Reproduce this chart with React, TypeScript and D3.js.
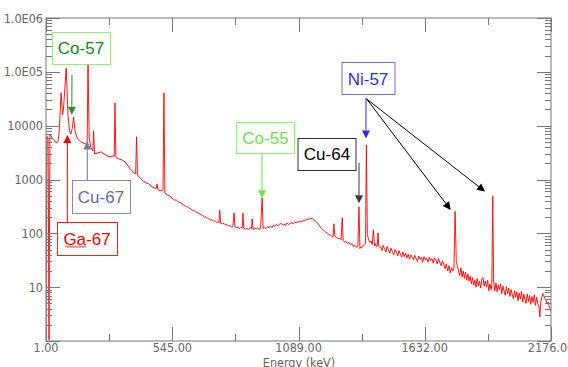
import React from 'react';
import * as d3 from 'd3';

// ---- data (energy in keV, counts) ----
const energyDomain: [number, number] = [1, 2176];
const countDomain: [number, number] = [1, 1e6];
const energyLabelTicks = [1, 545, 1089, 1632, 2176];
const energyHalfTicks = [273, 817, 1360.5, 1904];
const countDecades = [1, 10, 100, 1000, 10000, 1e5, 1e6];
const countLabels = ['', '10', '100', '1000', '10000', '1.0E05', '1.0E06'];

const lowSpectrum: [number, number][] = [
  [1, 1.05], [5, 6300], [10, 6000], [14, 1.05], [18, 6700], [22, 6500], [27, 6000], [35, 5450],
  [40, 5000], [48, 4800], [53, 5200], [58, 8000], [66, 40700], [72, 16000], [76, 19700],
  [88, 117000], [96, 15000], [102, 8000], [108, 7000], [114, 9000], [120, 14500], [126, 8000],
  [133, 6200], [140, 5500], [150, 5000], [160, 4800], [170, 4600], [178, 4500], [182, 135000],
  [187, 6000], [194, 4000], [200, 3600], [203, 3400], [206, 8000], [210, 3000], [225, 3120],
  [238, 3260], [251, 2990],
];

const midSpectrum: [number, number][] = [
  [264, 2746], [277, 2630], [290, 2746], [295, 2700], [298, 26500], [302, 2630], [315, 2415],
  [328, 2313], [341, 2124], [354, 1790], [367, 1507], [380, 1327], [387, 1271], [391, 6200],
  [395, 1220], [406, 1071], [419, 942], [432, 864], [445, 828], [458, 728], [470, 698], [475, 668],
  [479, 828], [484, 641], [496, 614], [505, 641], [509, 40700], [513, 564], [522, 517], [535, 490],
  [548, 440], [555, 410], [561, 420], [568, 392], [574, 378], [581, 372], [587, 352], [594, 338],
  [600, 330], [607, 308], [613, 312], [620, 290], [626, 284], [632, 266], [638, 270], [645, 250],
  [651, 246], [658, 236], [664, 228], [670, 222], [677, 214], [684, 200], [690, 204], [697, 188],
  [703, 186], [710, 176], [716, 180], [723, 168], [729, 171], [736, 160], [742, 165], [746, 158],
  [749, 272], [753, 155], [761, 150], [768, 153], [774, 143], [781, 146], [787, 136], [793, 140],
  [800, 130], [806, 134], [811, 239], [815, 132], [822, 127], [828, 130], [835, 122], [841, 130],
  [846, 125], [849, 239], [853, 124], [860, 119], [867, 123], [873, 117], [880, 128], [886, 122],
  [889, 185], [893, 118], [900, 126], [906, 121], [913, 127], [919, 117], [925, 126], [932, 455],
  [936, 124], [942, 130], [949, 122], [955, 133], [961, 127], [968, 138], [974, 128], [980, 141],
  [987, 135], [993, 146], [1000, 138], [1006, 148],
];

const highSpectrum: [number, number][] = [
  [1013, 152], [1020, 144], [1026, 149], [1033, 139], [1039, 156], [1046, 146], [1052, 152],
  [1059, 158], [1065, 150], [1072, 163], [1078, 155], [1085, 166], [1091, 160], [1098, 172],
  [1104, 163], [1110, 176], [1116, 172], [1123, 184], [1129, 179], [1136, 190], [1142, 186],
  [1148, 192], [1155, 178], [1161, 170], [1168, 160], [1174, 148], [1181, 136], [1187, 124],
  [1194, 117], [1200, 110], [1207, 104], [1213, 100], [1220, 95], [1226, 92], [1233, 88],
  [1237, 85], [1241, 150], [1245, 88], [1252, 84], [1259, 80], [1265, 82], [1272, 76],
  [1277, 193], [1281, 73], [1287, 68], [1293, 71], [1299, 64], [1306, 68], [1312, 62], [1319, 64],
  [1325, 57], [1332, 60], [1338, 55], [1344, 57], [1349, 310], [1353, 52], [1358, 56], [1362, 54],
  [1368, 60], [1373, 62], [1377, 66], [1381, 4400], [1385, 95], [1390, 78], [1396, 68], [1401, 72],
  [1406, 62], [1411, 116], [1416, 58], [1420, 64], [1424, 56], [1428, 60], [1431, 102], [1434, 58],
  [1438, 55],
];

const tailSpectrum: [number, number][] = [
  [1442, 56], [1448, 48], [1453, 60], [1459, 52], [1465, 45], [1470, 57], [1476, 49], [1482, 43],
  [1487, 53], [1493, 46], [1499, 40], [1504, 50], [1510, 45], [1516, 38], [1521, 48], [1527, 41],
  [1533, 36], [1538, 45], [1544, 37], [1550, 43], [1555, 35], [1561, 41], [1567, 33], [1572, 40],
  [1578, 36], [1584, 32], [1589, 39], [1595, 34], [1601, 30], [1606, 38], [1612, 33], [1618, 36],
  [1623, 29], [1629, 37], [1635, 32], [1640, 35], [1646, 29], [1652, 36], [1657, 31], [1663, 34],
  [1669, 28], [1674, 35], [1680, 32], [1686, 27], [1691, 34], [1697, 29], [1703, 25], [1708, 31],
  [1714, 27], [1720, 22], [1725, 27], [1731, 20], [1737, 25], [1742, 18.5], [1748, 23], [1753, 20],
  [1758, 23], [1763, 255], [1768, 30], [1773, 25], [1778, 20], [1783, 16.5], [1788, 23], [1793, 15.5],
  [1798, 20], [1803, 14.5], [1808, 19], [1813, 13.5], [1818, 17.5], [1823, 13], [1828, 16],
  [1833, 11.5], [1838, 15], [1843, 11], [1848, 13.5], [1853, 10], [1858, 14.5], [1863, 10.5],
  [1868, 13], [1873, 9.6], [1878, 14], [1883, 15], [1888, 10.5], [1893, 13], [1898, 10],
  [1903, 13.5], [1908, 8.6], [1913, 11.5], [1918, 9], [1921, 11], [1925, 496], [1929, 12.5],
  [1934, 8.6], [1939, 12], [1944, 8.2], [1949, 11], [1954, 9], [1959, 11.5], [1964, 7.6],
  [1969, 10.5], [1974, 8.6], [1979, 7.1], [1984, 10.2], [1989, 7.6], [1994, 9.6], [1999, 6.7],
  [2004, 9], [2009, 7.4], [2014, 6.1], [2019, 8.6], [2024, 6.5], [2029, 8.2], [2034, 5.6],
  [2039, 7.8], [2044, 6], [2049, 8.3], [2054, 5.3], [2059, 7.4], [2064, 5.8], [2069, 5],
  [2074, 7.5], [2079, 5.4], [2084, 7], [2089, 4.8], [2094, 6.7], [2099, 5.2], [2104, 7.2],
  [2109, 4.6], [2114, 6.5], [2119, 4.9], [2124, 4.3], [2128, 2.8], [2132, 5.3], [2137, 6.5],
  [2141, 7.6], [2145, 7], [2149, 6.2], [2154, 5.8], [2159, 4.9], [2164, 5.3], [2169, 4.2],
  [2175, 3.6],
];

// isotope call-outs: name and the [keV, counts] each arrow points at
const isotopeNames = ['Co-57', 'Ga-67', 'Cu-67', 'Co-55', 'Cu-64', 'Ni-57'];
const arrowTargets: [number, number][][] = [
  [[112, 15900]],
  [[93, 6740]],
  [[179, 5060]],
  [[931, 449]],
  [[1349, 362]],
  [[1379, 5800], [1744, 272], [1892, 596]],
];

// ---- layout (pixels) ----
const W = 568;
const H = 367;
const plot = { left: 46, right: 551, top: 18, bottom: 341 };
const calloutLayout = [
  { box: [52, 32, 58, 32], text: [81, 54], fill: '#128a12', stroke: '#99f070', from: [[72, 75]], arrow: ['#2b8f2b'], wavy: false },
  { box: [57, 222, 60, 33], text: [87, 245], fill: '#ff0000', stroke: '#ff2020', from: [[67.3, 222]], arrow: ['#ff0000'], wavy: true },
  { box: [72, 180, 58, 33], text: [101, 203], fill: '#6a6a9c', stroke: '#8a8ab0', from: [[87.3, 180]], arrow: ['#7474a6'], wavy: false },
  { box: [236, 122, 58, 31], text: [265.5, 144], fill: '#6ee04a', stroke: '#86f86a', from: [[262, 153]], arrow: ['#66e844'], wavy: false },
  { box: [297.5, 138, 58, 32], text: [327, 160], fill: '#000000', stroke: '#303030', from: [[359, 163]], arrow: ['#383838'], wavy: false },
  { box: [341.5, 62, 53, 32], text: [368, 85], fill: '#3434c4', stroke: '#7070dc', from: [[366, 98], [366.7, 99], [366.7, 99]], arrow: ['#3030d0', '#000000', '#000000'], wavy: false },
];

const labelFont = "'Liberation Sans Narrow', 'DejaVu Sans Condensed', Arial, sans-serif";
const calloutFont = "'Liberation Sans', Arial, sans-serif";
const axisColor = '#777777';
const tickTextColor = '#666666';

function arrowHead(x1: number, y1: number, x2: number, y2: number, len = 8, half = 4) {
  const dx = x2 - x1;
  const dy = y2 - y1;
  const d = Math.hypot(dx, dy) || 1;
  const ux = dx / d;
  const uy = dy / d;
  const bx = x2 - ux * len;
  const by = y2 - uy * len;
  return {
    base: [bx, by],
    points: `${x2},${y2} ${bx - uy * half},${by + ux * half} ${bx + uy * half},${by - ux * half}`,
  };
}

export default function App() {
  const x = d3.scaleLinear().domain(energyDomain).range([plot.left, plot.right]);
  const y = d3.scaleLog().domain(countDomain).range([plot.bottom, plot.top]);

  const spectrum = [...lowSpectrum, ...midSpectrum, ...highSpectrum, ...tailSpectrum];
  const line = d3
    .line<[number, number]>()
    .x((d) => x(d[0]))
    .y((d) => y(Math.max(d[1], 1)));

  // log minor ticks 2..9 in each decade
  const minorCounts: number[] = [];
  countDecades.slice(0, -1).forEach((dec) => {
    for (let k = 2; k <= 9; k++) minorCounts.push(dec * k);
  });

  const majorLen = 14;
  const minorLen = 6;

  // little spell-check squiggle under "Ga"
  let squiggle = 'M65,247';
  for (let i = 1; i <= 14; i++) squiggle += ` L${65 + i * 1.5},${i % 2 ? 245.8 : 247.6}`;

  return (
    <svg
      width={W}
      height={H}
      viewBox={`0 0 ${W} ${H}`}
      style={{ position: 'absolute', left: 0, top: 0, display: 'block', background: '#fff' }}
    >
      <defs>
        <clipPath id="plotClip">
          <rect x={plot.left} y={plot.top} width={plot.right - plot.left} height={plot.bottom - plot.top} />
        </clipPath>
      </defs>
      <rect x={0} y={0} width={W} height={H} fill="#ffffff" />

      {/* spectrum */}
      <path
        d={line(spectrum) || ''}
        fill="none"
        stroke="#ff0000"
        strokeWidth={0.9}
        strokeLinejoin="round"
        clipPath="url(#plotClip)"
      />

      {/* frame */}
      <rect
        x={plot.left}
        y={plot.top}
        width={plot.right - plot.left}
        height={plot.bottom - plot.top}
        fill="none"
        stroke={axisColor}
        strokeWidth={1}
      />

      {/* left + right log ticks */}
      <g stroke={axisColor} strokeWidth={1}>
        {countDecades.map((c) => (
          <g key={`maj${c}`}>
            <line x1={plot.left} x2={plot.left + majorLen} y1={Math.round(y(c)) + 0.5} y2={Math.round(y(c)) + 0.5} />
            <line x1={plot.right - majorLen} x2={plot.right} y1={Math.round(y(c)) + 0.5} y2={Math.round(y(c)) + 0.5} />
          </g>
        ))}
        {minorCounts.map((c) => (
          <g key={`min${c}`}>
            <line x1={plot.left} x2={plot.left + minorLen} y1={Math.round(y(c)) + 0.5} y2={Math.round(y(c)) + 0.5} />
            <line x1={plot.right - minorLen} x2={plot.right} y1={Math.round(y(c)) + 0.5} y2={Math.round(y(c)) + 0.5} />
          </g>
        ))}
        {/* top + bottom energy ticks */}
        {energyLabelTicks.map((e) => (
          <g key={`ex${e}`}>
            <line x1={Math.round(x(e)) + 0.5} x2={Math.round(x(e)) + 0.5} y1={plot.top} y2={plot.top + majorLen} />
            <line x1={Math.round(x(e)) + 0.5} x2={Math.round(x(e)) + 0.5} y1={plot.bottom - majorLen} y2={plot.bottom} />
          </g>
        ))}
        {energyHalfTicks.map((e) => (
          <g key={`eh${e}`}>
            <line x1={Math.round(x(e)) + 0.5} x2={Math.round(x(e)) + 0.5} y1={plot.top} y2={plot.top + 7} />
            <line x1={Math.round(x(e)) + 0.5} x2={Math.round(x(e)) + 0.5} y1={plot.bottom - 7} y2={plot.bottom} />
          </g>
        ))}
      </g>

      {/* tick labels */}
      <g fontFamily={labelFont} fontSize={12.5} fill={tickTextColor}>
        {countDecades.map((c, i) => (
          <text key={`yl${c}`} x={plot.left - 3} y={y(c) + 4.5} textAnchor="end">
            {countLabels[i]}
          </text>
        ))}
        {energyLabelTicks.map((e) => (
          <text key={`xl${e}`} x={x(e)} y={352} textAnchor="middle">
            {e.toFixed(2)}
          </text>
        ))}
        <text x={299} y={366.5} textAnchor="middle">
          Energy (keV)
        </text>
      </g>

      {/* call-outs */}
      {isotopeNames.map((name, i) => {
        const L = calloutLayout[i];
        return (
          <g key={name}>
            {arrowTargets[i].map((t, j) => {
              const [fx, fy] = L.from[j];
              const tx = x(t[0]);
              const ty = y(t[1]);
              const head = arrowHead(fx, fy, tx, ty);
              return (
                <g key={j}>
                  <line x1={fx} y1={fy} x2={head.base[0]} y2={head.base[1]} stroke={L.arrow[j]} strokeWidth={1} />
                  <polygon points={head.points} fill={L.arrow[j]} />
                </g>
              );
            })}
            <rect
              x={L.box[0] + 0.5}
              y={L.box[1] + 0.5}
              width={L.box[2]}
              height={L.box[3]}
              fill="#ffffff"
              stroke={L.stroke}
              strokeWidth={1}
            />
            <text x={L.text[0]} y={L.text[1]} textAnchor="middle" fontFamily={calloutFont} fontSize={17} fill={L.fill}>
              {name}
            </text>
            {L.wavy && <path d={squiggle} fill="none" stroke="#ff0000" strokeWidth={0.8} />}
          </g>
        );
      })}
    </svg>
  );
}
